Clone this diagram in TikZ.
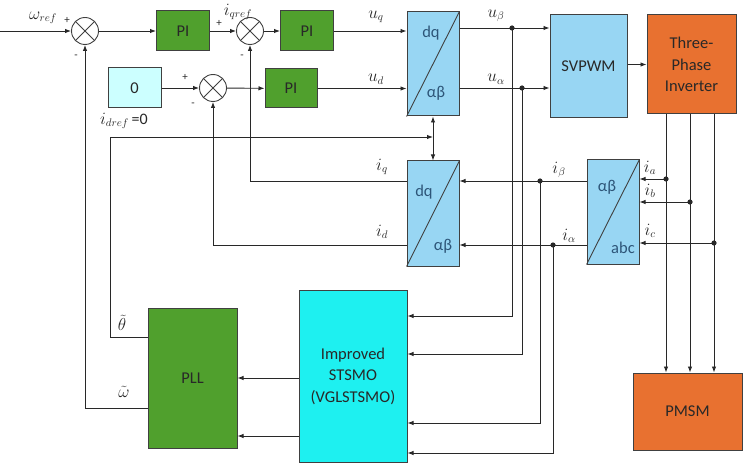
\documentclass[tikz,border=0pt]{standalone}
\usepackage{fontspec}
\setmainfont{Carlito}
\usetikzlibrary{arrows.meta}

\definecolor{pigreen}{RGB}{80,160,45}
\definecolor{tfblue}{RGB}{152,214,243}
\definecolor{invorange}{RGB}{232,113,48}
\definecolor{smocyan}{RGB}{30,240,240}
\definecolor{zerocyan}{RGB}{204,255,255}
\definecolor{edgecol}{RGB}{64,64,64}
\definecolor{wirecol}{RGB}{40,40,40}
\definecolor{txtcol}{RGB}{40,40,40}
\definecolor{tftxt}{RGB}{45,85,120}

\newcommand\boxfont{\fontsize{16.5}{21.5}\selectfont}
\newcommand\lblfont{\fontsize{16}{19}\selectfont}
\newcommand\signfont{\fontsize{11}{13}\selectfont}

\begin{document}
\begin{tikzpicture}[x=1pt, y=-1pt,
    >={Latex[length=6pt,width=4.5pt]},
    block/.style={draw=edgecol, line width=1pt, inner sep=0pt, font=\boxfont, text=txtcol, align=center},
    pibox/.style={block, fill=pigreen, minimum width=53, minimum height=40},
    tfbox/.style={block, fill=tfblue, minimum width=52},
    sumnode/.style={circle, draw=edgecol, line width=0.9pt, fill=white, minimum size=27, inner sep=0pt},
    wire/.style={draw=wirecol, line width=0.9pt},
    lbl/.style={font=\lblfont, text=txtcol, inner sep=0pt},
    sign/.style={font=\signfont, text=txtcol, inner sep=0pt},
    tftext/.style={font=\boxfont, text=tftxt, inner sep=0pt}]
  \useasboundingbox (0,0) rectangle (744,465);

  % speed and current loops
  \coordinate (in) at (0,31);
  \node[sumnode] (s1) at (85,31) {};
  \node[pibox] (pi1) at (183,31) {PI};
  \node[sumnode] (s2) at (250,31) {};
  \node[pibox] (pi2) at (307,31) {PI};
  \node[block, fill=zerocyan, minimum width=53, minimum height=40] (zero) at (134.5,88) {0};
  \node[sumnode] (s3) at (213,88) {};
  \node[pibox, minimum width=52, minimum height=39] (pi3) at (291,88.5) {PI};

  % transforms
  \node[tfbox, minimum height=104] (t1) at (433,64) {};
  \node[tfbox, minimum height=105] (t2) at (433,213.5) {};
  \node[tfbox, minimum height=104] (t3) at (613,212) {};
  \foreach \t in {t1,t2,t3}
    \draw[edgecol, line width=0.9pt] (\t.south west) -- (\t.north east);
  \node[tftext] (t1a) at (431,33) {dq};
  \node[tftext] (t1b) at (436,93) {αβ};
  \node[tftext] (t2a) at (424,192) {dq};
  \node[tftext] (t2b) at (443,246) {αβ};
  \node[tftext] (t3a) at (607,187) {αβ};
  \node[tftext] (t3b) at (623,248) {abc};

  \node[block, fill=tfblue, minimum width=77, minimum height=103] (sv) at (588.5,66.5) {SVPWM};
  \node[block, fill=invorange, minimum width=89, minimum height=99] (inv) at (691.5,64.5) {Three-\\Phase\\Inverter};
  \node[block, fill=invorange, minimum width=109, minimum height=77] (pmsm) at (687.5,411.5) {PMSM};
  \node[block, fill=pigreen, minimum width=89, minimum height=140] (pll) at (192.5,378) {PLL};
  \node[block, fill=smocyan, minimum width=108, minimum height=172] (smo) at (353,376) {Improved\\STSMO\\(VGLSTSMO)};

  \foreach \s in {s1,s2,s3}
    \draw[edgecol, line width=0.9pt] (\s.45) -- (\s.225) (\s.135) -- (\s.-45);

  % branch points
  \coordinate (ub) at (512,28);
  \coordinate (ua) at (522,88);
  \coordinate (ibt) at (540,181);
  \coordinate (ial) at (553,245);
  \coordinate (ia) at (666,179);
  \coordinate (ib) at (690,202);
  \coordinate (ic) at (714,243);
  \coordinate (th) at (433,137);

  % forward path
  \draw[wire,->] (in) -- (s1);
  \draw[wire,->] (s1) -- (pi1);
  \draw[wire,->] (pi1) -- (s2);
  \draw[wire,->] (s2) -- (pi2);
  \draw[wire,->] (pi2) -- (pi2 -| t1.west);
  \draw[wire,->] (zero) -- (s3);
  \draw[wire,->] (s3) -- (pi3);
  \draw[wire,->] (pi3) -- (pi3 -| t1.west);
  \draw[wire,->] (t1.east |- ub) -- (sv.west |- ub);
  \draw[wire,->] (t1.east |- ua) -- (sv.west |- ua);
  \draw[wire,->] (sv.east |- inv) -- (inv.west);
  \foreach \p in {ia,ib,ic}
    \draw[wire,->] (inv.south -| \p) -- (pmsm.north -| \p);

  % measured currents
  \foreach \p in {ia,ib,ic}
    \draw[wire,->] (\p) -- (t3.east |- \p);
  \draw[wire,->] (t3.west |- ibt) -- (t2.east |- ibt);
  \draw[wire,->] (t3.west |- ial) -- (t2.east |- ial);
  \draw[wire,->] (t2.west |- ibt) -| (s2);
  \draw[wire,->] (t2.west |- ial) -| (s3);

  % observer and PLL
  \draw[wire,<->] (t1) -- (t2);
  \draw[wire,->] (pll.west |- 0,337) -| (110,137) -- (th);
  \draw[wire,->] (pll.west |- 0,408) -| (s1);
  \draw[wire,->] (smo.west |- 0,378) -- (pll.east |- 0,378);
  \draw[wire,->] (smo.west |- 0,436) -- (pll.east |- 0,436);
  \draw[wire,->] (ub) |- (smo.east |- 0,316);
  \draw[wire,->] (ua) |- (smo.east |- 0,354);
  \draw[wire,->] (ibt) |- (smo.east |- 0,423);
  \draw[wire,->] (ial) |- (smo.east |- 0,453);

  \foreach \p in {ub,ua,ibt,ial,ia,ib,ic}
    \fill[wirecol] (\p) circle (2.6);

  % labels
  \node[lbl] (lwref) at (43,18) {$\omega_{ref}$};
  \node[sign] (p1) at (67,20) {+};
  \node[sign] (m1) at (76,57) {-};
  \node[lbl] (liqref) at (238,12) {$i_{qref}$};
  \node[sign] (p2) at (219,23) {+};
  \node[sign] (m2) at (242,57) {-};
  \node[sign] (p3) at (185,77) {+};
  \node[sign] (m3) at (193,105) {-};
  \node[lbl] (lidref) at (124,121) {$i_{dref}$\,=0};
  \node[lbl] (luq) at (376,17) {$u_q$};
  \node[lbl] (lud) at (376,79) {$u_d$};
  \node[lbl] (lub) at (496,16) {$u_\beta$};
  \node[lbl] (lua) at (496,79) {$u_\alpha$};
  \node[lbl] (liq) at (382,167) {$i_q$};
  \node[lbl] (lid) at (382,232) {$i_d$};
  \node[lbl] (libt) at (559,170) {$i_\beta$};
  \node[lbl] (lial) at (569,236) {$i_\alpha$};
  \node[lbl] (lia) at (650,168) {$i_a$};
  \node[lbl] (lib) at (650,191) {$i_b$};
  \node[lbl] (lic) at (650,231) {$i_c$};
  \node[lbl] (lth) at (122,323) {$\tilde{\theta}$};
  \node[lbl] (lw) at (124,392) {$\tilde{\omega}$};
\end{tikzpicture}
\end{document}
